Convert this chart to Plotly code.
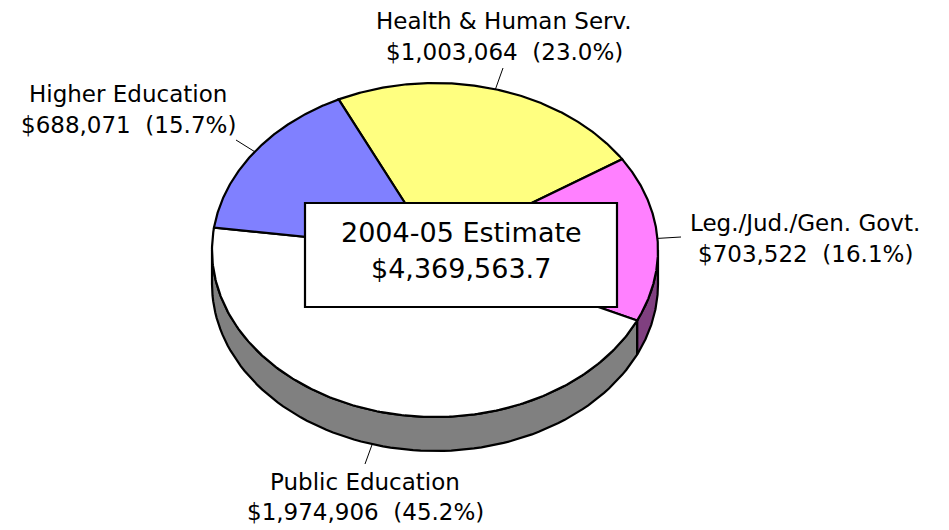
import numpy as np
import plotly.graph_objects as go

# ---- data ----
categories = ["Health & Human Serv.", "Leg./Jud./Gen. Govt.", "Public Education", "Higher Education"]
values = [1003064, 703522, 1974906, 688071]
center_title = "2004-05 Estimate"
center_total = "$4,369,563.7"

# ---- styles ----
top_colors = ["#FFFF80", "#FF80FF", "#FFFFFF", "#8080FF"]
side_colors = ["#808040", "#804080", "#808080", "#404080"]
FONT = "DejaVu Sans"
EDGE_W = 2.2

# ellipse geometry (pixel space)
CX, CY, RX, RY, DEPTH = 435, 250, 223, 167, 34
START = 115.6  # first slice starts here, slices go clockwise

# label anchors: (x, y line1, y line2, leader end x, leader end y)
label_pos = [
    (504, 21, 52, 503, 68),
    (805, 223, 254, 681, 237),
    (365, 482, 512, 365, 464),
    (128, 94, 125, 236, 140),
]

total = float(sum(values))
fracs = [v / total for v in values]
bounds = [START]
for f in fracs:
    bounds.append(bounds[-1] - 360.0 * f)


def ell(theta, dz=0.0):
    t = np.radians(theta)
    return CX + RX * np.cos(t), CY - RY * np.sin(t) + dz


fig = go.Figure()

# side walls (front half only)
for i in range(len(values)):
    a, b = bounds[i], bounds[i + 1]
    for k in range(-2, 3):
        lo = max(b, -180 + 360 * k)
        hi = min(a, 0 + 360 * k)
        if hi - lo <= 1e-6:
            continue
        th = np.linspace(hi, lo, 80)
        xt, yt = ell(th)
        xb, yb = ell(th[::-1], DEPTH)
        xs = np.concatenate([xt, xb, xt[:1]])
        ys = np.concatenate([yt, yb, yt[:1]])
        fig.add_trace(go.Scatter(x=xs, y=ys, mode="lines", fill="toself",
                                 fillcolor=side_colors[i],
                                 line=dict(color="black", width=EDGE_W),
                                 hoverinfo="skip", showlegend=False))

# top surface slices
for i in range(len(values)):
    a, b = bounds[i], bounds[i + 1]
    th = np.linspace(a, b, 200)
    xa, ya = ell(th)
    xs = np.concatenate([[CX], xa, [CX]])
    ys = np.concatenate([[CY], ya, [CY]])
    fig.add_trace(go.Scatter(x=xs, y=ys, mode="lines", fill="toself",
                             fillcolor=top_colors[i],
                             line=dict(color="black", width=EDGE_W),
                             hoverinfo="skip", showlegend=False))

shapes = []
annotations = []
for i, cat in enumerate(categories):
    mid = (bounds[i] + bounds[i + 1]) / 2.0
    dz = DEPTH if np.sin(np.radians(mid)) < 0 else 0.0
    sx, sy = ell(mid, dz)
    lx, l1, l2, ex, ey = label_pos[i]
    shapes.append(dict(type="line", xref="x", yref="y", x0=sx, y0=sy, x1=ex, y1=ey,
                       line=dict(color="black", width=1), layer="above"))
    pct = 100.0 * values[i] / total
    annotations.append(dict(x=lx, y=l1, xref="x", yref="y", text=cat, showarrow=False,
                            xanchor="center", yanchor="middle",
                            font=dict(family=FONT, size=23, color="black")))
    annotations.append(dict(x=lx, y=l2, xref="x", yref="y",
                            text=f"${values[i]:,}  ({pct:.1f}%)", showarrow=False,
                            xanchor="center", yanchor="middle",
                            font=dict(family=FONT, size=23, color="black")))

# central box
shapes.append(dict(type="rect", xref="x", yref="y", x0=305, y0=203, x1=617, y1=307,
                   fillcolor="white", line=dict(color="black", width=2.2), layer="above"))
annotations.append(dict(x=461, y=232, xref="x", yref="y", text=center_title, showarrow=False,
                        xanchor="center", yanchor="middle",
                        font=dict(family=FONT, size=27, color="black")))
annotations.append(dict(x=461, y=268, xref="x", yref="y", text=center_total, showarrow=False,
                        xanchor="center", yanchor="middle",
                        font=dict(family=FONT, size=27, color="black")))

# the page body has an 8px margin: the figure starts at page pixel 8
PAGE_OFF = 8
fig.update_layout(
    width=949 - PAGE_OFF, height=530 - PAGE_OFF,
    margin=dict(l=0, r=0, t=0, b=0),
    paper_bgcolor="white", plot_bgcolor="white",
    xaxis=dict(range=[PAGE_OFF, 949], visible=False, fixedrange=True),
    yaxis=dict(range=[530, PAGE_OFF], visible=False, fixedrange=True),
    shapes=shapes, annotations=annotations,
    showlegend=False,
)

fig.write_html("out.html", config={"displayModeBar": False})
